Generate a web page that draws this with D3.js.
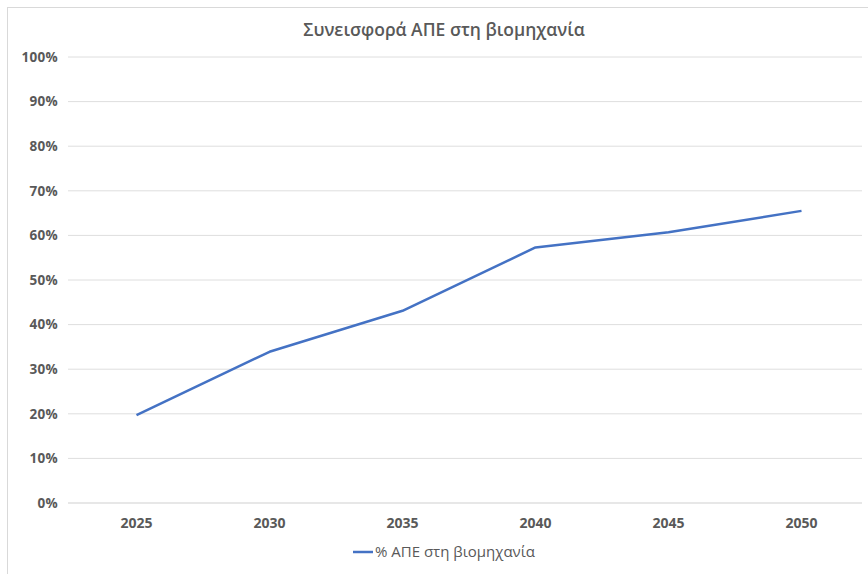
<!DOCTYPE html>
<html><head><meta charset="utf-8">
<script src="https://cdn.jsdelivr.net/npm/d3@7"></script>
<style>body{margin:0;background:#fff}svg{display:block}text{font-family:"Open Sans","Noto Sans",sans-serif}</style>
</head><body>
<svg id="c" width="868" height="574"></svg>
<script>
const categories = ["2025","2030","2035","2040","2045","2050"];
const values = [0.197, 0.339, 0.431, 0.573, 0.607, 0.655];
const yTicks = [0,0.1,0.2,0.3,0.4,0.5,0.6,0.7,0.8,0.9,1.0];
const title = "Συνεισφορά ΑΠΕ στη βιομηχανία";
const seriesName = "% ΑΠΕ στη βιομηχανία";

const svg = d3.select("#c");
svg.append("rect").attr("x",7.5).attr("y",7.5).attr("width",870).attr("height",580)
  .attr("fill","#fff").attr("stroke","#d9d9d9");

const x = d3.scalePoint().domain(categories).range([70,868]).padding(0.5);
const y = d3.scaleLinear().domain([0,1]).range([503,57]);

svg.append("g").selectAll("line").data(yTicks).join("line")
  .attr("x1",68).attr("x2",862).attr("y1",d=>y(d)).attr("y2",d=>y(d))
  .attr("stroke",d=>d===0?"#cfcfcf":"#dedede").attr("stroke-width",1);

svg.append("g").selectAll("text").data(yTicks).join("text")
  .attr("x",58).attr("y",d=>y(d)).attr("dy","0.35em").attr("text-anchor","end")
  .attr("font-size",13.5).attr("font-weight","bold").attr("fill","#595959")
  .attr("letter-spacing","0.3")
  .text(d3.format(".0%"));

svg.append("g").selectAll("text").data(categories).join("text")
  .attr("x",d=>x(d)).attr("y",528).attr("text-anchor","middle")
  .attr("font-size",14).attr("font-weight","bold").attr("fill","#595959")
  .text(d=>d);

svg.append("text").attr("x",444).attr("y",36).attr("text-anchor","middle")
  .attr("font-size",17.5).attr("font-weight","600").attr("fill","#595959").text(title);

const line = d3.line().x((d,i)=>x(categories[i])).y(d=>y(d));
svg.append("path").datum(values).attr("d",line).attr("fill","none")
  .attr("stroke","#4472c4").attr("stroke-width",2.5).attr("stroke-linejoin","round");

svg.append("line").attr("x1",353).attr("x2",373).attr("y1",552).attr("y2",552)
  .attr("stroke","#4472c4").attr("stroke-width",2.5);
svg.append("text").attr("x",375).attr("y",552).attr("dy","0.35em")
  .attr("font-size",15).attr("font-weight","500").attr("fill","#595959").text(seriesName);
</script>
</body></html>
